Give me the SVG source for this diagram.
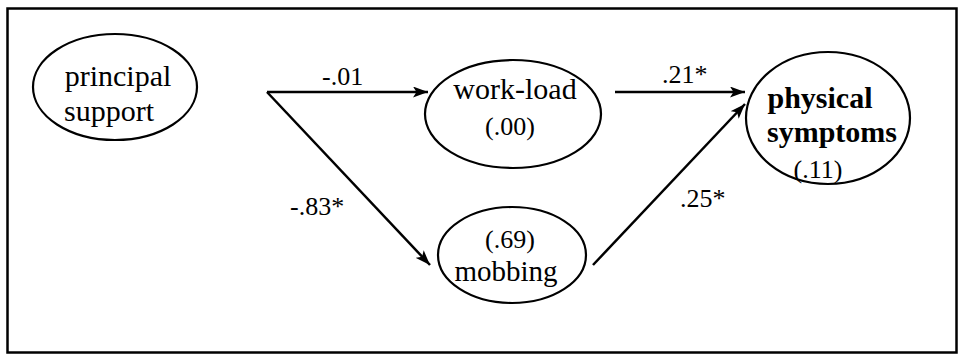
<svg xmlns="http://www.w3.org/2000/svg" width="963" height="355" viewBox="0 0 963 355">
  <style>
    .node { fill: #fff; stroke: #000; stroke-width: 2.2; }
    .t { font-family: "Liberation Serif", "Times New Roman", serif; fill: #000; text-anchor: middle; }
    .lbl { font-family: "Liberation Serif", "Times New Roman", serif; fill: #000; font-size: 26px; }
    .edge { stroke: #000; stroke-width: 2.5; fill: none; }
  </style>
  <defs>
    <marker id="arrow" viewBox="0 0 15 11" refX="15" refY="5.5" markerWidth="15" markerHeight="11" markerUnits="userSpaceOnUse" orient="auto">
      <path d="M0,0 L15,5.5 L0,11 L3.5,5.5 Z" fill="#000"/>
    </marker>
  </defs>

  <rect x="0" y="0" width="963" height="355" fill="#fff"/>
  <!-- outer frame -->
  <rect x="7.5" y="8.5" width="949" height="344" fill="none" stroke="#000" stroke-width="2.5"/>

  <g id="principal-support">
    <ellipse class="node" cx="115" cy="87" rx="82" ry="53"/>
    <text class="t" x="118" y="86" font-size="30">principal</text>
    <text class="t" x="109" y="121" font-size="30">support</text>
  </g>

  <g id="work-load">
    <ellipse class="node" cx="513" cy="114" rx="88" ry="54"/>
    <text class="t" x="515" y="99" font-size="30">work-load</text>
    <text class="t" x="510" y="135" font-size="26">(.00)</text>
  </g>

  <g id="mobbing">
    <ellipse class="node" cx="512" cy="255" rx="74" ry="48"/>
    <text class="t" x="510" y="248" font-size="26">(.69)</text>
    <text class="t" x="506" y="281" font-size="29">mobbing</text>
  </g>

  <g id="physical-symptoms">
    <ellipse class="node" cx="828" cy="118" rx="82" ry="66"/>
    <text class="t" x="820" y="108" font-size="30" font-weight="bold">physical</text>
    <text class="t" x="832" y="142" font-size="30" font-weight="bold">symptoms</text>
    <text class="t" x="818" y="178" font-size="26">(.11)</text>
  </g>

  <g id="connectors">
    <line class="edge" x1="267" y1="92" x2="428" y2="92" marker-end="url(#arrow)"/>
    <line class="edge" x1="267" y1="92" x2="430" y2="265" marker-end="url(#arrow)"/>
    <line class="edge" x1="615" y1="92" x2="745" y2="92" marker-end="url(#arrow)"/>
    <line class="edge" x1="593" y1="265" x2="745" y2="104" marker-end="url(#arrow)"/>
    <text class="lbl" x="322" y="85">-.01</text>
    <text class="lbl" x="290" y="215" font-size="27">-.83*</text>
    <text class="lbl" x="662" y="83">.21*</text>
    <text class="lbl" x="680" y="207">.25*</text>
  </g>
</svg>
